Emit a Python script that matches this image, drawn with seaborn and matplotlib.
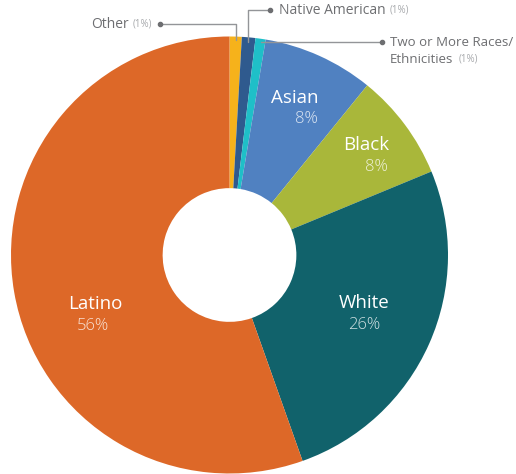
import matplotlib.pyplot as plt
import seaborn as sns

sns.set_style("white")
plt.rcParams['font.family'] = ['Open Sans', 'DejaVu Sans']

# slice order clockwise from 12 o'clock
groups = ["Other", "Native American", "Two or More Races/\nEthnicities", "Asian", "Black", "White", "Latino"]
shares = [0.9, 1.0, 0.75, 8.2, 7.9, 25.8, 55.4]
pct_text = ["1%", "1%", "1%", "8%", "8%", "26%", "56%"]
colors = ["#F6B21B", "#2F5A8E", "#1FBFC8", "#5081C1", "#A9B73A", "#11626B", "#DD6828"]

W, H = 516, 474
fig = plt.figure(figsize=(W / 100, H / 100), dpi=100)
ax = fig.add_axes([0, 0, 1, 1])

cx, cy, r = 229.5, H - 255, 218.5
ax.pie(shares, colors=colors, startangle=90, counterclock=False,
       center=(cx, cy), radius=r,
       wedgeprops=dict(width=r * 0.694, linewidth=0))
ax.set_xlim(0, W)
ax.set_ylim(0, H)
ax.set_aspect("equal")
ax.axis("off")

def Y(y):
    return H - y

# labels inside the big slices (image pixel coords)
inside = {
    "Asian": ((295, 98, "center"), (318, 119, "right")),
    "Black": ((366, 145, "center"), (388, 167, "right")),
    "White": ((364, 303, "center"), (364, 325, "center")),
    "Latino": ((95, 304, "center"), (93, 326, "center")),
}
for g, p in zip(groups, pct_text):
    if g in inside:
        (nx, ny, nha), (px, py, pha) = inside[g]
        ax.text(nx, Y(ny), g, color="white", fontsize=13.5, ha=nha, va="center")
        ax.text(px, Y(py), p, color="white", alpha=0.8, fontsize=12, fontweight="light",
                ha=pha, va="center")

grey = "#6d6e71"
light = "#a7a9ac"
line_c = "#939598"

# Other
ax.plot([160, 235.5, 235.5], [Y(24), Y(24), Y(40)], color=line_c, lw=1)
ax.plot(160, Y(24), "o", color=grey, ms=3)
ax.text(152, Y(24), "(" + pct_text[0] + ")", color=light, fontsize=7, ha="right", va="center")
ax.text(129, Y(24), groups[0], color=grey, fontsize=10, ha="right", va="center")

# Native American
ax.plot([248, 248, 270], [Y(42), Y(10), Y(10)], color=line_c, lw=1)
ax.plot(270, Y(10), "o", color=grey, ms=3)
ax.text(279, Y(10), groups[1], color=grey, fontsize=10, ha="left", va="center")
ax.text(390, Y(10), "(" + pct_text[1] + ")", color=light, fontsize=7, ha="left", va="center")

# Two or more
ax.plot([261, 382], [Y(42), Y(42)], color=line_c, lw=1)
ax.plot(382, Y(42), "o", color=grey, ms=3)
ax.text(390, Y(42), "Two or More Races/", color=grey, fontsize=9.5, ha="left", va="center")
ax.text(390, Y(59), "Ethnicities", color=grey, fontsize=9.5, ha="left", va="center")
ax.text(459, Y(59), "(" + pct_text[2] + ")", color=light, fontsize=7, ha="left", va="center")

plt.savefig("out.png", dpi=100)
